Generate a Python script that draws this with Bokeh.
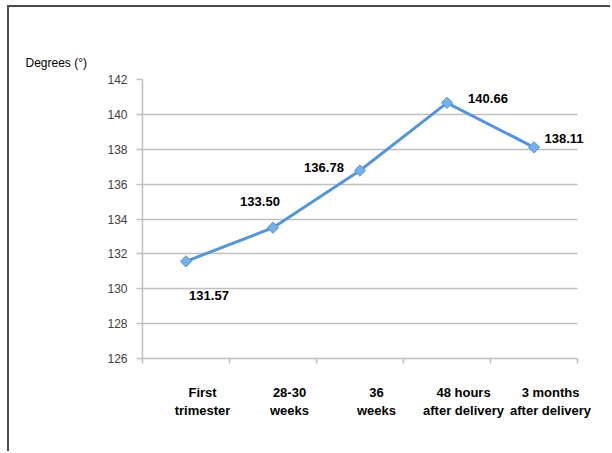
import math
from bokeh.plotting import figure
from bokeh.models import Range1d, FixedTicker, LinearAxis, ColumnDataSource, LabelSet
from bokeh.core.properties import value
from bokeh.embed import file_html
from bokeh.resources import INLINE

categories = ["First\ntrimester", "28-30\nweeks", "36\nweeks",
              "48 hours\nafter delivery", "3 months\nafter delivery"]
values = [131.57, 133.50, 136.78, 140.66, 138.11]
value_labels = ["131.57", "133.50", "136.78", "140.66", "138.11"]
y_ticks = [126, 128, 130, 132, 134, 136, 138, 140, 142]
label_dx = [23, -13, -36, 41, 30]
label_dy = [-34, 26, 3, 4, 9]

FONT = "Liberation Sans"
n = len(categories)
xs = [i + 0.5 for i in range(n)]
bounds = list(range(n + 1))

W, H = 603, 446
ML, MR, MT, MB = 133, 10, 72, 95
frame_w = W - ML - MR
x_end = n * frame_w / 435.0  # category area occupies 435 px; extra room on right for labels

p = figure(width=W, height=H, x_range=Range1d(0, x_end), y_range=Range1d(126, 142),
           output_backend="svg", toolbar_location=None,
           min_border_left=ML, min_border_right=MR, min_border_top=MT, min_border_bottom=MB)
p.stylesheets = [":host { border-left: 2px solid #4a4a4a; border-top: 2px solid #4a4a4a; margin-left: 7px; margin-top: 5px; }"]
p.outline_line_color = None
p.background_fill_color = "white"
p.border_fill_color = "white"

# title as y-axis caption
p.title.text = "Degrees (°)"
p.title.align = "left"
p.title.offset = -117
p.title.standoff = 20
p.title.text_font = FONT
p.title.text_font_size = "12px"
p.title.text_font_style = "normal"
p.title.text_color = "#000000"

# y axis
p.yaxis.ticker = FixedTicker(ticks=y_ticks)
p.yaxis.major_tick_in = 0
p.yaxis.major_tick_out = 6
p.yaxis.minor_tick_line_color = None
p.yaxis.axis_line_color = "#BFBFBF"
p.yaxis.axis_line_width = 1.5
p.yaxis.major_tick_line_color = "#BFBFBF"
p.yaxis.major_tick_line_width = 1.5
p.yaxis.major_label_text_font = FONT
p.yaxis.major_label_text_font_size = "12px"
p.yaxis.major_label_text_color = "#404040"
p.yaxis.major_label_standoff = 9

p.ygrid.ticker = FixedTicker(ticks=y_ticks)
p.ygrid.grid_line_color = "#BFBFBF"
p.ygrid.grid_line_width = 1.5
p.ygrid.cross_bounds = (0, n)
p.xgrid.visible = False

# x axis: boundary ticks only
p.xaxis.ticker = FixedTicker(ticks=bounds)
p.xaxis.bounds = (0, n)
p.xaxis.major_label_overrides = {b: "" for b in bounds}
p.xaxis.major_tick_in = 0
p.xaxis.major_tick_out = 5
p.xaxis.minor_tick_line_color = None
p.xaxis.axis_line_color = "#BFBFBF"
p.xaxis.axis_line_width = 1.5
p.xaxis.major_tick_line_color = "#BFBFBF"
p.xaxis.major_tick_line_width = 1.5
p.xaxis.major_label_standoff = 0
p.xaxis.major_label_text_font_size = "1px"

# category label axis, shifted slightly right like the reference
shift = 0.19
p.extra_x_ranges = {"cat": Range1d(-shift, x_end - shift)}
cat_axis = LinearAxis(x_range_name="cat", ticker=FixedTicker(ticks=xs),
                      major_label_overrides={x: c for x, c in zip(xs, categories)})
cat_axis.axis_line_color = None
cat_axis.major_tick_line_color = None
cat_axis.minor_tick_line_color = None
cat_axis.major_label_standoff = 15
cat_axis.major_label_text_font = FONT
cat_axis.major_label_text_font_size = "13px"
cat_axis.major_label_text_font_style = "bold"
cat_axis.major_label_text_color = "#000000"
p.add_layout(cat_axis, "below")

src = ColumnDataSource(dict(x=xs, y=values, lab=value_labels, dx=label_dx, dy=label_dy))
p.line("x", "y", source=src, line_color="#5696D8", line_width=3)
p.scatter("x", "y", source=src, marker="square", size=8, angle=math.pi / 4,
          fill_color="#7AAFE5", line_color="#5696D8", line_width=1)

labels = LabelSet(x="x", y="y", text="lab", x_offset="dx", y_offset="dy", source=src,
                  text_align="center", text_baseline="middle",
                  text_font=value(FONT), text_font_size=value("13px"),
                  text_font_style="bold", text_color="#000000")
p.add_layout(labels)

open("out.html", "w").write(file_html(p, INLINE))
